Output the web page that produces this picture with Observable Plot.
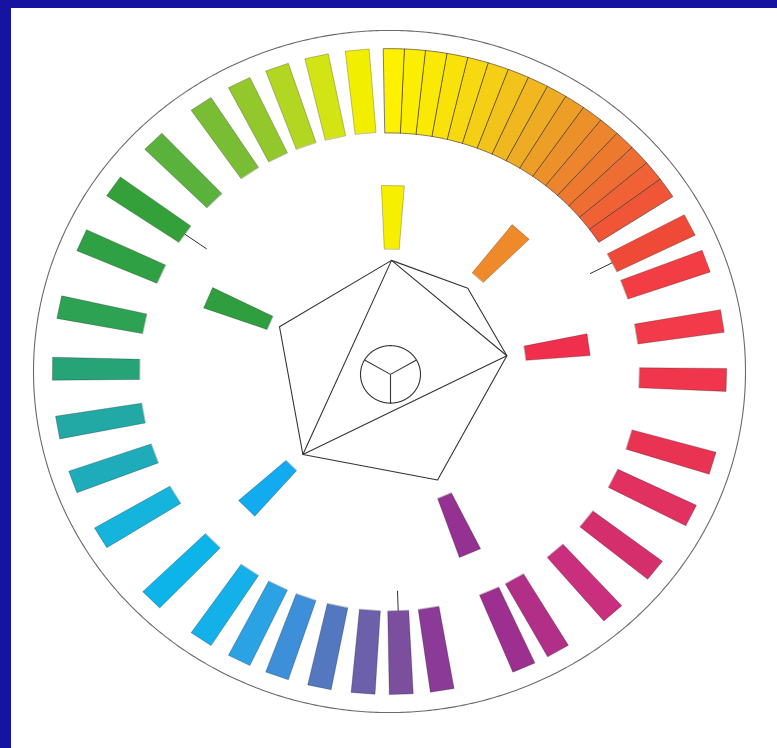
<!DOCTYPE html>
<html><head><meta charset="utf-8">
<script src="https://cdn.jsdelivr.net/npm/d3@7"></script>
<script src="https://cdn.jsdelivr.net/npm/@observablehq/plot@0.6"></script>
<style>
html,body{margin:0;padding:0;background:#1713a1;width:777px;height:748px;overflow:hidden}
#panel{position:absolute;left:11px;top:8px;width:766px;height:740px;background:#fff}
</style></head><body><div id="panel"></div>
<script>
// ---- data (angles in degrees, clockwise from top) ----
// contiguous yellow→orange block: segment edges and colours
const blockEdges = [-1, 2.6, 6.2, 9.9, 13.5, 17.1, 20.7, 24.4, 28.0, 31.6, 35.2, 38.9, 42.5, 46.1, 49.8, 53.5, 57.2];
const blockColors = ["#fdf100","#fcee02","#fae905","#f8e20a","#f6d910","#f4cf16","#f2c31b","#f0b720",
                     "#eeab24","#ed9e27","#ec912a","#ec852d","#ed792f","#ee6d32","#f06135","#f15537"];
// separate bars of the outer ring
const ringAngles = [63, 70, 81, 91.5, 106.5, 116.5, 128, 138.5, 150, 156.5, 171, 178, 184.5, 192, 199.5,
                    206.5, 214, 225, 239, 250, 260, 270.5, 281.5, 294, 305, 315.5, 326, 333.5, 340.5, 347.5, 354.5];
const ringColors = ["#ef4a38","#f23d44","#f23a4a","#ef364c","#e83352","#e03160","#d42f6c","#c92f7c",
                    "#b22f88","#9c2f90","#8c3a98","#7c4e9e","#6c60aa","#5478c0","#3c8fd8","#2ba2e4",
                    "#14b0ea","#0cb4ea","#14b4dc","#1eabba","#22a9a6","#26a478","#2ca252","#30a044",
                    "#34a03a","#5ab23c","#78bd34","#92c82c","#b2d622","#d3e414","#f1ee00"];
// six inner bars and hexagon vertices
const innerAngles = [1, 42, 82, 157, 225, 293];
const innerColors = ["#f7ef00","#ef8a2a","#ef2f4c","#953192","#12abef","#2f9e3e"];
const innerStart = [128, 132, 137, 141, 139, 130];
const innerEnd = [194, 196, 201, 206, 202, 197];
const hexRadius = [116, 117, 118.5, 123, 122.5, 119.5];
const triangleVertices = [0, 2, 4];
// three marker ticks
const tickAngles = [63, 178, 305];
const tickEnds = [225, 229, 223];
const coreAngles = [60, 180, 300];

// ---- geometry helpers ----
const R_CIRCLE = 356, R_IN = 249, R_OUT = 337, CORE_R = 30;
const rad = d => d * Math.PI / 180;
const pt = (a, r, w = 0) => {
  const t = rad(a);
  return {x: r * Math.sin(t) + w * Math.cos(t), y: r * Math.cos(t) - w * Math.sin(t)};
};
const arc = (a0, a1, r) => {
  const n = Math.max(2, Math.ceil(Math.abs(a1 - a0) / 0.5));
  return d3.range(n + 1).map(i => pt(a0 + (a1 - a0) * i / n, r));
};
const bar = (id, a, r1, r2, w1, w2, fill) =>
  [pt(a, r1, -w1), pt(a, r2, -w2), pt(a, r2, w2), pt(a, r1, w1)].map(p => ({...p, id, fill}));

const circlePts = arc(0, 360, R_CIRCLE);
const wedgePts = blockColors.flatMap((c, i) =>
  [...arc(blockEdges[i], blockEdges[i + 1], R_OUT), ...arc(blockEdges[i + 1], blockEdges[i], R_IN)]
    .map(p => ({...p, id: "w" + i, fill: c})));
const ringPts = ringAngles.flatMap((a, i) => bar("r" + i, a, R_IN + 1, R_OUT, 10.5, 12, ringColors[i]));
const innerPts = innerAngles.flatMap((a, i) => bar("i" + i, a, innerStart[i], innerEnd[i], 7.5, 11.5, innerColors[i]));
const hexPts = innerAngles.map((a, i) => pt(a, hexRadius[i]));
const triPts = triangleVertices.map(i => hexPts[i]);
const ticks = tickAngles.map((a, i) => {
  const p = pt(a, R_IN + 1), q = pt(a, tickEnds[i]);
  return {x1: p.x, y1: p.y, x2: q.x, y2: q.y};
});
const coreC = {x: 1, y: -3};
const corePts = arc(0, 360, CORE_R).map(p => ({x: p.x + coreC.x, y: p.y + coreC.y}));
const coreLinks = coreAngles.map(a => {
  const q = pt(a, CORE_R);
  return {x1: coreC.x, y1: coreC.y, x2: q.x + coreC.x, y2: q.y + coreC.y};
});

const chart = Plot.plot({
  width: 766, height: 740, margin: 0,
  x: {domain: [-378, 388], axis: null},
  y: {domain: [-393.5, 378.9], axis: null},
  color: {type: "identity"},
  style: {background: "white"},
  marks: [
    Plot.line(circlePts, {x: "x", y: "y", stroke: "#6a6a6a", strokeWidth: 1.1, curve: "linear-closed"}),
    Plot.line(wedgePts, {x: "x", y: "y", z: "id", fill: "fill", stroke: "#4a3b33", strokeWidth: 0.8, strokeOpacity: 0.85, curve: "linear-closed"}),
    Plot.line(ringPts, {x: "x", y: "y", z: "id", fill: "fill", stroke: "#000", strokeWidth: 0.8, strokeOpacity: 0.3, curve: "linear-closed"}),
    Plot.line(innerPts, {x: "x", y: "y", z: "id", fill: "fill", stroke: "#000", strokeWidth: 0.8, strokeOpacity: 0.3, curve: "linear-closed"}),
    Plot.link(ticks, {x1: "x1", y1: "y1", x2: "x2", y2: "y2", stroke: "#333", strokeWidth: 1}),
    Plot.line(hexPts, {x: "x", y: "y", stroke: "#333", strokeWidth: 1.1, curve: "linear-closed"}),
    Plot.line(triPts, {x: "x", y: "y", stroke: "#333", strokeWidth: 1.1, curve: "linear-closed"}),
    Plot.line(corePts, {x: "x", y: "y", stroke: "#333", strokeWidth: 1.1, curve: "linear-closed"}),
    Plot.link(coreLinks, {x1: "x1", y1: "y1", x2: "x2", y2: "y2", stroke: "#333", strokeWidth: 1.1})
  ]
});
document.getElementById("panel").appendChild(chart);
</script></body></html>
